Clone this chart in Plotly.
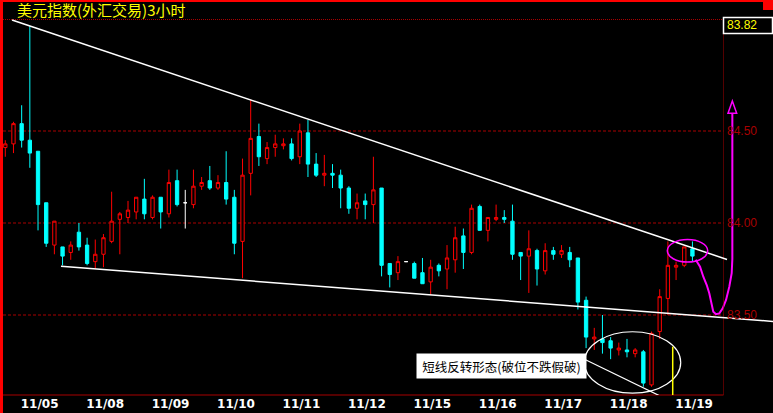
import plotly.graph_objects as go

# ---------------- data ----------------
days = ["11/05", "11/08", "11/09", "11/10", "11/11", "11/12",
        "11/15", "11/16", "11/17", "11/18", "11/19"]
bars_per_day = 8

opens = [84.41, 84.43, 84.54, 84.45, 84.39, 84.11, 83.88, 83.87, 83.84, 83.95,
         83.88, 83.79, 83.83, 83.90, 84.02, 84.03, 84.06, 84.13, 84.03, 84.14,
         84.05, 84.23, 84.11, 84.10, 84.20, 84.23, 84.19, 84.22, 84.14, 83.90,
         84.27, 84.47, 84.35, 84.41, 84.42, 84.43, 84.36, 84.49, 84.32, 84.26,
         84.27, 84.26, 84.19, 84.08, 84.12, 84.10, 84.19, 83.78, 83.73, 83.79,
         83.78, 83.73, 83.68, 83.77, 83.75, 83.80, 83.93, 83.84, 84.09, 83.96,
         84.02, 84.03, 84.01, 83.84, 83.82, 83.85, 83.74, 83.85, 83.83, 83.84,
         83.81, 83.58, 83.37, 83.37, 83.36, 83.31, 83.31, 83.29, 83.30, 83.12,
         83.41, 83.59, 83.76, 83.77, 83.86]
highs = [84.45, 84.55, 84.64, 85.07, 84.39, 84.11, 84.01, 83.87, 83.90, 84.00,
         83.92, 83.91, 83.94, 84.17, 84.06, 84.12, 84.14, 84.24, 84.15, 84.14,
         84.29, 84.29, 84.18, 84.29, 84.25, 84.31, 84.26, 84.39, 84.18, 84.35,
         84.67, 84.54, 84.44, 84.48, 84.46, 84.46, 84.54, 84.56, 84.38, 84.37,
         84.32, 84.29, 84.20, 84.16, 84.16, 84.36, 84.19, 83.78, 83.82, 83.79,
         83.79, 83.81, 83.80, 83.78, 83.88, 83.98, 83.97, 84.10, 84.10, 84.03,
         84.10, 84.07, 84.10, 83.84, 83.96, 83.86, 83.89, 83.87, 83.88, 83.87,
         83.81, 83.60, 83.43, 83.50, 83.38, 83.35, 83.37, 83.32, 83.31, 83.41,
         83.64, 83.90, 83.79, 83.87, 83.90]
lows = [84.36, 84.38, 84.41, 84.30, 83.96, 83.87, 83.83, 83.77, 83.80, 83.85,
        83.77, 83.75, 83.76, 83.89, 83.83, 84.00, 84.02, 84.02, 84.02, 83.97,
        84.03, 84.09, 83.97, 84.08, 84.18, 84.18, 84.18, 84.10, 83.83, 83.70,
        84.15, 84.31, 84.32, 84.36, 84.40, 84.34, 84.32, 84.25, 84.25, 84.20,
        84.19, 84.08, 84.05, 84.02, 84.02, 84.00, 83.71, 83.65, 83.69, 83.79,
        83.70, 83.67, 83.61, 83.71, 83.64, 83.73, 83.75, 83.83, 83.96, 83.90,
        84.01, 84.00, 83.80, 83.69, 83.62, 83.66, 83.72, 83.80, 83.81, 83.76,
        83.53, 83.32, 83.31, 83.29, 83.26, 83.28, 83.27, 83.27, 83.11, 83.11,
        83.37, 83.50, 83.69, 83.76, 83.79]
closes = [84.43, 84.54, 84.45, 84.38, 84.10, 83.89, 84.01, 83.82, 83.88, 83.87,
          83.78, 83.83, 83.92, 84.01, 84.05, 84.07, 84.14, 84.05, 84.14, 84.06,
          84.22, 84.10, 84.11, 84.20, 84.22, 84.19, 84.22, 84.13, 83.89, 84.26,
          84.46, 84.36, 84.41, 84.43, 84.43, 84.35, 84.50, 84.32, 84.26, 84.27,
          84.26, 84.19, 84.08, 84.11, 84.10, 84.18, 83.77, 83.72, 83.79, 83.79,
          83.70, 83.67, 83.76, 83.74, 83.81, 83.92, 83.84, 84.08, 83.96, 84.03,
          84.03, 84.02, 83.83, 83.82, 83.86, 83.75, 83.85, 83.83, 83.85, 83.80,
          83.57, 83.38, 83.38, 83.35, 83.32, 83.32, 83.30, 83.31, 83.13, 83.40,
          83.60, 83.77, 83.77, 83.87, 83.82]

grid_levels = [83.50, 84.00, 84.50]

# analyst drawings, in (bar index, price)
upper_trend_x = [0.82, 88.23]
upper_trend_y = [85.103, 83.802]
lower_trend_x = [6.81, 93.85]
lower_trend_y = [83.765, 83.465]
pointer_x = [70.87, 80.04]
pointer_y = [83.258, 83.060]
white_ellipse_x = [70.78, 82.57]
white_ellipse_y = [83.075, 83.409]
magenta_ellipse_x = [80.93, 85.87]
magenta_ellipse_y = [83.788, 83.910]
forecast_x = [84.40, 84.93, 85.33, 85.75, 86.06, 86.36, 86.55, 86.88, 87.29,
              87.70, 88.11, 88.51, 88.80, 88.88, 88.88]
forecast_y = [83.800, 83.763, 83.708, 83.663, 83.618, 83.554, 83.518, 83.504,
              83.509, 83.536, 83.582, 83.654, 83.727, 83.804, 84.596]
arrow_x = [88.35, 88.88, 89.41]
arrow_y = [84.596, 84.663, 84.596]
cursor_x = 81.59
cursor_top = 83.328
note_text = "短线反转形态(破位不跌假破)"
note_x, note_y = 50.2, 83.291
title_text = "美元指数(外汇交易)3小时"

# ---------------- layout geometry ----------------
W, H = 773, 413
ML, MR, MT, MB = 3, 0, 19, 18
PW, PH = W - ML - MR, H - MT - MB
x_range = [-0.281, 93.85]
y_range = [83.0652, 85.1087]


def pxx(px):
    return (px - ML) / PW


def pxy(py):
    return (H - MB - py) / PH


DARKRED = "#a80000"
n = len(opens)
idx = list(range(n))
ups = [i for i in idx if closes[i] > opens[i]]
downs = [i for i in idx if closes[i] < opens[i]]
dojis = [i for i in idx if closes[i] == opens[i]]


def candle(sel, line_c, fill_c):
    return go.Candlestick(
        x=[i for i in sel], open=[opens[i] for i in sel], high=[highs[i] for i in sel],
        low=[lows[i] for i in sel], close=[closes[i] for i in sel],
        increasing=dict(line=dict(color=line_c, width=1), fillcolor=fill_c),
        decreasing=dict(line=dict(color=line_c, width=1), fillcolor=fill_c),
        whiskerwidth=0, hoverinfo="skip", showlegend=False)


fig = go.Figure()
fig.add_trace(candle(ups, "#ff0000", "#000000"))
fig.add_trace(candle(downs, "#00ffff", "#00ffff"))
fig.add_trace(candle(dojis, "#ffffff", "#ffffff"))

fig.add_trace(go.Scatter(x=forecast_x, y=forecast_y, mode="lines",
                         line=dict(color="#ff00ff", width=2),
                         hoverinfo="skip", showlegend=False))

shapes = []
# frame decorations
shapes.append(dict(type="rect", xref="paper", yref="paper", x0=pxx(0), x1=pxx(3),
                   y0=pxy(H), y1=pxy(0), fillcolor="#ff0000", line=dict(width=0)))
shapes.append(dict(type="rect", xref="paper", yref="paper", x0=pxx(0), x1=pxx(W),
                   y0=pxy(2), y1=pxy(0), fillcolor="#ff0000", line=dict(width=0)))
shapes.append(dict(type="rect", xref="paper", yref="paper", x0=pxx(763), x1=pxx(W),
                   y0=pxy(10), y1=pxy(0), fillcolor="#ff0000", line=dict(width=0)))
shapes.append(dict(type="line", xref="paper", yref="paper", x0=pxx(3), x1=pxx(723.5),
                   y0=pxy(19.5), y1=pxy(19.5), line=dict(color=DARKRED, width=1, dash="1px,1px")))
shapes.append(dict(type="line", xref="paper", yref="paper", x0=pxx(723.5), x1=pxx(723.5),
                   y0=pxy(19.5), y1=pxy(395), line=dict(color=DARKRED, width=1, dash="1px,1px")))
shapes.append(dict(type="line", xref="paper", yref="paper", x0=pxx(3), x1=pxx(723.5),
                   y0=pxy(395), y1=pxy(395), line=dict(color=DARKRED, width=1)))
for v in grid_levels:
    shapes.append(dict(type="line", xref="paper", yref="y", x0=pxx(3), x1=pxx(723.5),
                       y0=v, y1=v, layer="below",
                       line=dict(color=DARKRED, width=1, dash="3px,2px")))
# last price box
shapes.append(dict(type="rect", xref="paper", yref="paper", x0=pxx(723.5), x1=pxx(772.5),
                   y0=pxy(33.5), y1=pxy(17.5), line=dict(color="#ffffff", width=1.5)))
# drawings
shapes.append(dict(type="line", x0=upper_trend_x[0], x1=upper_trend_x[1],
                   y0=upper_trend_y[0], y1=upper_trend_y[1], line=dict(color="#ffffff", width=1.5)))
shapes.append(dict(type="line", x0=lower_trend_x[0], x1=lower_trend_x[1],
                   y0=lower_trend_y[0], y1=lower_trend_y[1], line=dict(color="#ffffff", width=1.5)))
shapes.append(dict(type="line", x0=pointer_x[0], x1=pointer_x[1],
                   y0=pointer_y[0], y1=pointer_y[1], line=dict(color="#ffffff", width=1.2)))
shapes.append(dict(type="circle", x0=white_ellipse_x[0], x1=white_ellipse_x[1],
                   y0=white_ellipse_y[0], y1=white_ellipse_y[1], line=dict(color="#ffffff", width=1.2)))
shapes.append(dict(type="circle", x0=magenta_ellipse_x[0], x1=magenta_ellipse_x[1],
                   y0=magenta_ellipse_y[0], y1=magenta_ellipse_y[1], line=dict(color="#ff00ff", width=1.5)))
shapes.append(dict(type="line", x0=cursor_x, x1=cursor_x, y0=cursor_top, y1=y_range[0],
                   line=dict(color="#ffff00", width=1.5)))
arrow_path = "M {} {} L {} {} L {} {} Z".format(arrow_x[0], arrow_y[0], arrow_x[1],
                                                 arrow_y[1], arrow_x[2], arrow_y[2])
shapes.append(dict(type="path", path=arrow_path, line=dict(color="#ff00ff", width=1.5)))

annotations = []
annotations.append(dict(xref="paper", yref="paper", x=pxx(16), y=pxy(10),
                        xanchor="left", yanchor="middle", showarrow=False, text=title_text,
                        borderpad=0,
                        font=dict(family="Noto Sans CJK SC", size=15, color="#ffff00")))
for v in grid_levels:
    annotations.append(dict(xref="paper", yref="y", x=pxx(725), y=v, xanchor="left",
                            yanchor="middle", showarrow=False, text="{:.2f}".format(v),
                            font=dict(family="Liberation Sans", size=12, color=DARKRED)))
annotations.append(dict(xref="paper", yref="paper", x=pxx(742), y=pxy(25.5),
                        xanchor="center", yanchor="middle", showarrow=False,
                        text="{:.2f}".format(closes[-1]),
                        font=dict(family="Liberation Sans", size=12, color="#ffff00")))
annotations.append(dict(x=note_x, y=note_y, xanchor="left", yanchor="top", showarrow=False,
                        text=note_text, bgcolor="#ffffff", borderpad=0, width=169, height=24,
                        font=dict(family="Noto Sans CJK SC", size=12.5, color="#000000")))

tickvals = [d * bars_per_day + 4.2 for d in range(len(days))]

fig.update_layout(
    width=W, height=H, margin=dict(l=ML, r=MR, t=MT, b=MB, pad=0),
    paper_bgcolor="#000000", plot_bgcolor="#000000",
    showlegend=False, boxgap=0.42,
    shapes=shapes, annotations=annotations,
    xaxis=dict(range=x_range, showgrid=False, zeroline=False, showline=False,
               rangeslider=dict(visible=False), tickmode="array", tickvals=tickvals,
               ticktext=days, ticks="",
               tickfont=dict(family="DejaVu Sans", size=12, color="#ffffff", weight="bold")),
    yaxis=dict(range=y_range, showgrid=False, zeroline=False, showline=False,
               showticklabels=False, ticks=""),
)

fig.write_html("out.html", config={"displayModeBar": False},
               post_script="document.body.style.margin='0';"
                           "document.body.style.background='#000';")
